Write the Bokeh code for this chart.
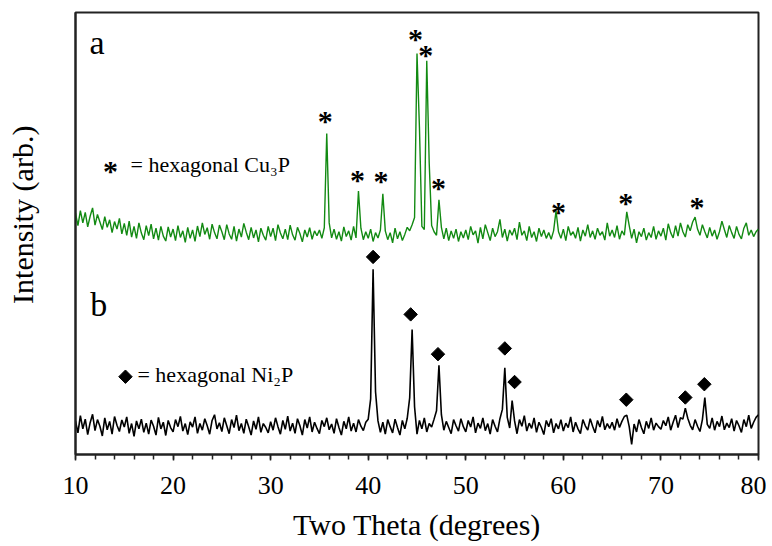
import numpy as np
from bokeh.plotting import figure
from bokeh.models import Range1d, FixedTicker, Label
from bokeh.core.properties import value
from bokeh.embed import file_html
from bokeh.resources import INLINE

# two-theta grid (degrees)
x_start, x_step = 10.0, 0.25

# pattern a (Cu3P), arbitrary intensity units (offset trace)
int_a = [
    54.6, 51.8, 55.2, 52.4, 54.8, 51.5, 53.9, 55.8, 51.9, 54.3, 52.6, 50.9, 53.8, 51.4, 53.1, 50.2, 52.7, 51.0, 53.4, 49.9,
    52.3, 49.6, 52.8, 49.2, 51.6, 48.9, 52.4, 50.1, 48.6, 51.8, 49.5, 52.1, 48.8, 51.2, 48.5, 51.6, 49.4, 48.3, 51.5, 49.2,
    51.0, 48.4, 51.8, 49.1, 50.6, 48.0, 51.4, 48.9, 50.8, 48.2, 51.7, 49.3, 52.4, 49.8, 51.3, 48.7, 52.1, 50.2, 48.8, 51.9,
    50.4, 48.6, 52.0, 49.9, 48.7, 51.6, 48.3, 51.0, 49.2, 52.3, 50.3, 48.6, 51.4, 49.0, 50.8, 48.1, 51.2, 49.6, 48.5, 51.6,
    49.3, 51.2, 48.4, 52.0, 50.1, 48.8, 51.0, 48.6, 51.9, 49.7, 48.5, 51.4, 50.0, 48.1, 50.8, 49.2, 51.3, 48.7, 50.6, 49.5,
    50.8, 48.9, 51.3, 72.6, 52.4, 49.0, 51.0, 48.7, 50.4, 48.3, 51.5, 49.3, 50.6, 48.5, 51.6, 49.0, 59.6, 51.2, 48.6, 50.4,
    48.9, 51.0, 48.2, 50.2, 49.0, 50.8, 59.0, 50.6, 48.6, 50.2, 47.9, 51.2, 48.8, 50.4, 48.4, 49.8, 51.4, 50.6, 52.0, 53.6,
    90.7, 74.0, 51.6, 50.9, 89.1, 66.0, 51.8, 50.4, 49.6, 57.6, 51.4, 48.8, 51.2, 48.4, 50.6, 48.9, 51.0, 48.2, 50.4, 49.0,
    50.8, 48.6, 51.6, 49.7, 50.6, 47.8, 51.4, 48.8, 52.0, 50.2, 48.4, 51.2, 49.3, 50.4, 53.2, 49.1, 51.0, 48.3, 50.8, 49.6,
    51.2, 48.6, 52.6, 49.6, 50.6, 48.4, 51.6, 49.1, 50.4, 48.2, 51.2, 49.3, 50.8, 48.9, 50.2, 48.7, 50.6, 55.1, 50.4, 48.9,
    51.0, 48.4, 51.6, 49.6, 50.4, 48.9, 51.4, 48.3, 50.8, 49.4, 52.0, 49.1, 50.6, 48.7, 51.2, 49.6, 50.4, 48.5, 52.4, 49.4,
    50.8, 49.1, 51.8, 48.7, 50.6, 49.6, 54.9, 51.8, 48.9, 51.0, 47.9, 50.4, 49.3, 51.2, 48.5, 50.2, 49.1, 51.6, 48.7, 50.6,
    49.4, 51.2, 48.5, 52.2, 50.2, 49.0, 51.8, 49.4, 52.4, 50.4, 49.2, 52.0, 50.6, 52.6, 53.7, 51.0, 49.6, 52.0, 50.4, 49.0,
    51.4, 49.4, 50.8, 48.7, 50.4, 52.8, 50.9, 49.1, 51.8, 50.2, 48.9, 51.6, 49.8, 48.8, 51.2, 52.4, 49.6, 50.8, 49.3, 50.4,
    51.0,
]

# pattern b (Ni2P)
int_b = [
    7.6, 4.9, 8.8, 5.8, 8.0, 4.5, 7.2, 9.1, 5.4, 7.9, 6.4, 4.2, 8.3, 5.6, 7.5, 4.6, 8.6, 6.6, 5.2, 7.8,
    6.2, 8.5, 4.8, 7.0, 4.1, 7.6, 5.8, 8.0, 5.0, 7.1, 4.6, 7.8, 6.4, 4.4, 8.4, 5.8, 7.3, 4.3, 7.7, 6.1,
    5.1, 7.9, 6.3, 8.6, 5.3, 7.0, 4.5, 7.4, 6.2, 8.5, 4.8, 7.0, 5.5, 8.1, 6.5, 4.6, 7.7, 9.0, 5.8, 7.2,
    5.2, 8.3, 6.5, 4.7, 7.9, 6.1, 8.9, 5.4, 7.0, 4.8, 8.0, 6.3, 4.4, 7.6, 5.7, 8.5, 5.0, 7.0, 6.1, 4.9,
    7.4, 5.5, 8.3, 6.3, 4.6, 7.7, 5.7, 8.7, 5.3, 7.1, 4.8, 8.1, 6.5, 4.4, 7.9, 6.0, 8.5, 5.1, 7.3, 5.9,
    4.7, 7.7, 6.3, 8.3, 5.6, 6.9, 4.8, 8.1, 6.1, 4.4, 7.5, 5.8, 8.5, 5.3, 7.1, 5.1, 7.9, 6.4, 5.4, 7.3,
    8.0, 12.6, 41.9, 14.2, 7.6, 5.0, 7.3, 4.6, 7.9, 6.3, 4.9, 8.0, 6.1, 4.4, 7.7, 5.8, 8.2, 12.8, 28.3, 10.8,
    4.6, 7.7, 5.8, 8.3, 5.1, 7.0, 6.2, 8.0, 9.9, 20.2, 9.0, 5.5, 7.5, 6.1, 4.7, 7.9, 6.5, 5.3, 8.1, 6.3,
    5.1, 7.7, 6.2, 8.5, 4.9, 7.1, 5.9, 8.3, 5.4, 7.0, 4.6, 7.9, 6.4, 5.1, 8.1, 10.2, 19.6, 8.4, 6.0, 12.2,
    7.6, 4.7, 7.9, 6.4, 8.8, 5.3, 7.1, 5.9, 8.3, 5.0, 7.3, 6.1, 4.5, 7.7, 6.3, 8.1, 4.9, 7.0, 5.8, 7.9,
    5.3, 7.1, 6.1, 8.5, 5.1, 7.3, 5.8, 4.7, 7.9, 6.5, 5.5, 8.1, 6.4, 4.9, 7.7, 6.2, 8.6, 5.6, 7.0, 5.9,
    7.3, 5.5, 8.1, 6.1, 7.5, 8.6, 8.9, 6.3, 2.3, 6.9, 5.1, 7.9, 6.1, 4.7, 7.5, 5.9, 8.3, 5.5, 7.1, 6.3,
    5.7, 7.7, 6.5, 8.5, 5.5, 7.3, 8.9, 6.1, 8.3, 8.0, 10.5, 8.2, 6.6, 5.6, 7.9, 6.4, 5.2, 7.9, 12.9, 6.8,
    5.9, 8.3, 5.5, 7.5, 6.3, 8.7, 5.6, 7.1, 6.1, 8.1, 5.3, 7.7, 6.5, 5.0, 7.9, 6.3, 8.9, 5.9, 7.3, 8.4,
    9.0,
]

# peak markers
star_x = [35.6, 38.9, 41.3, 44.85, 45.9, 47.2, 59.5, 66.4, 73.7]
star_y = [76.2, 63.0, 62.6, 94.8, 91.2, 61.0, 55.6, 57.8, 56.9]
diam_x = [40.5, 44.35, 47.15, 54.0, 55.0, 66.45, 72.5, 74.45]
diam_y = [44.7, 31.7, 22.7, 24.0, 16.4, 12.4, 12.9, 15.9]

x_label = "Two Theta (degrees)"
y_label = "Intensity (arb.)"
x_ticks = [10, 20, 30, 40, 50, 60, 70, 80]
x_minor = list(range(10, 81, 2))

two_theta = x_start + x_step * np.arange(len(int_a))

SERIF = "Liberation Serif"

p = figure(width=766, height=546, output_backend="svg", toolbar_location=None,
           x_range=Range1d(10, 80), y_range=Range1d(0, 100),
           min_border_left=75, min_border_right=8, min_border_top=12, min_border_bottom=92)
p.grid.visible = False
p.background_fill_color = "white"
p.border_fill_color = "white"
p.outline_line_color = "#222222"
p.outline_line_width = 2

p.line(two_theta, int_a, line_color="#128a12", line_width=1.4)
p.line(two_theta, int_b, line_color="black", line_width=1.6)

p.text(star_x, star_y, text=["*"] * len(star_x), text_font=value(SERIF), text_font_style="bold",
       text_font_size="30px", text_align="center", text_baseline="middle", y_offset=3, text_color="black")
p.scatter(diam_x, diam_y, marker="square", angle=np.pi / 4, size=9.5, fill_color="black", line_color="black")

# legend-like annotations
p.text([13.59], [64.9], text=["*"], text_font=value(SERIF), text_font_style="bold",
       text_font_size="30px", text_align="center", text_baseline="middle", y_offset=3, text_color="black")
p.scatter([15.12], [17.6], marker="square", angle=np.pi / 4, size=9.5, fill_color="black", line_color="black")
p.add_layout(Label(x=15.64, y=65.6, text="= hexagonal Cu\u2083P", text_font=SERIF, text_font_size="22px",
                   text_baseline="middle", text_color="black"))
p.add_layout(Label(x=16.35, y=18.1, text="= hexagonal Ni\u2082P", text_font=SERIF, text_font_size="22px",
                   text_baseline="middle", text_color="black"))
p.add_layout(Label(x=11.43, y=93.3, text="a", text_font=SERIF, text_font_size="34px",
                   text_baseline="middle", text_color="black"))
p.add_layout(Label(x=11.5, y=33.9, text="b", text_font=SERIF, text_font_size="34px",
                   text_baseline="middle", text_color="black"))

xa = p.xaxis[0]
xa.ticker = FixedTicker(ticks=x_ticks, minor_ticks=x_minor)
xa.axis_label = x_label
xa.axis_label_text_font = SERIF
xa.axis_label_text_font_style = "normal"
xa.axis_label_text_font_size = "30px"
xa.axis_label_text_color = "black"
xa.axis_label_standoff = 11
xa.major_label_text_font = SERIF
xa.major_label_text_font_size = "26px"
xa.major_label_text_color = "black"
xa.major_label_standoff = 16
xa.axis_line_color = "#222222"
xa.axis_line_width = 2
xa.major_tick_line_color = "#222222"
xa.major_tick_line_width = 1.5
xa.major_tick_in = 0
xa.major_tick_out = 6
xa.minor_tick_line_color = "#222222"
xa.minor_tick_line_width = 1.5
xa.minor_tick_in = 0
xa.minor_tick_out = 5

ya = p.yaxis[0]
ya.ticker = FixedTicker(ticks=[])
# leading no-break spaces lift the title a little above the frame centre, as in the original
ya.axis_label = "\u00a0" * 5 + y_label
ya.axis_label_text_font = SERIF
ya.axis_label_text_font_style = "normal"
ya.axis_label_text_font_size = "30px"
ya.axis_label_text_color = "black"
ya.axis_label_standoff = 37
ya.axis_line_color = "#222222"
ya.axis_line_width = 2
ya.major_tick_line_color = None
ya.minor_tick_line_color = None
ya.major_label_text_font_size = "0px"

open("out.html", "w").write(file_html(p, INLINE))
